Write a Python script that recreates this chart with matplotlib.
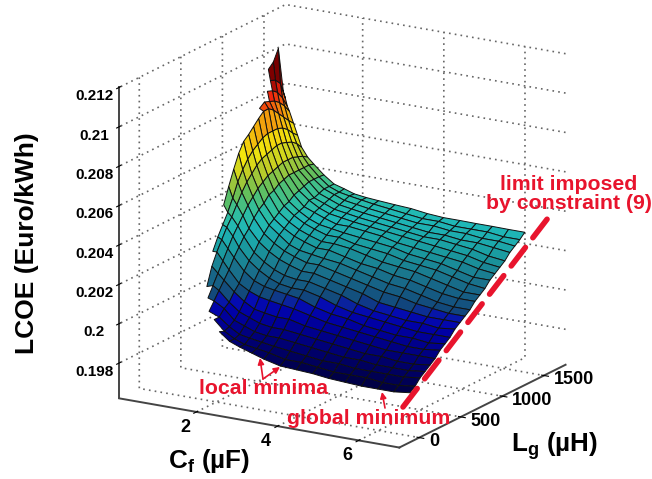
import matplotlib
matplotlib.use('Agg')
import matplotlib.pyplot as plt
import numpy as np
from matplotlib.colors import LinearSegmentedColormap
from mpl_toolkits.mplot3d.art3d import Poly3DCollection

nan = float('nan')

# Axis values
cf_values = [0.25, 0.3, 0.35, 0.4, 0.5, 0.6, 0.7, 0.85, 1, 1.25, 1.5, 1.75, 2, 2.3, 2.6, 3, 3.4, 3.8, 4.2, 4.6, 5, 5.4, 5.8, 6.2]
lg_values = [280, 340, 400, 460, 520, 580, 640, 700, 760, 820, 880, 940, 1000, 1060, 1120, 1180, 1240, 1300, 1360, 1420, 1480, 1540, 1600, 1660]

cf_ticks = [2, 4, 6]
lg_ticks = [0, 500, 1000, 1500]
lcoe_ticks = [0.198, 0.2, 0.202, 0.204, 0.206, 0.208, 0.21, 0.212]
lcoe_tick_labels = ['0.198', '0.2', '0.202', '0.204', '0.206', '0.208', '0.21', '0.212']

# LCOE per Cf column, one value per Lg row, nan outside the feasible region
lcoe = [
    [nan]*20 + [.20935, .2096, .21016, .20785],
    [nan]*20 + [.2088, .2087, .2084, .20752],
    [nan]*19 + [.2084, .2083, .2081, .2077, .20713],
    [nan]*17 + [.2078, .2080, .2079, .2078, .2076, .2073, .2069],
    [nan]*9 + [.20395, .20475, .2055, .20618, .20666, .20689, .20717, .20745, .20769, .2077, .2075, .2072, .2069, .2066, .20633],
    [nan]*6 + [.2020, .2026, .2031, .2036, .2042, .2049, .2054, .2058, .2061, .2063, .2065, .2066, .2066, .2066, .2065, .2063, .2060, .20576],
    [nan]*4 + [.2005, .2014, .2020, .2025, .2030, .2034, .2039, .2044, .2048, .2051, .2054, .2056, .2057, .2058, .2059, .2059, .2058, .2057, .2055, .20518],
    [nan]*3 + [.2001, .2006, .2011, .2016, .2021, .2026, .2030, .2034, .2038, .2041, .2044, .2046, .2048, .2049, .2050, .2051, .2051, .2051, .2050, .2049, .20473],
    [nan]*2 + [.1996, .2000, .2004, .2008, .2012, .2017, .2021, .2025, .2028, .2032, .2035, .2037, .2040, .2041, .2043, .2044, .2045, .2045, .2045, .2045, .2045, .20443],
    [nan] + [.1994, .1994, .1997, .1999, .2003, .2006, .2011, .2015, .2018, .2022, .2025, .2028, .2030, .2032, .2034, .2035, .2037, .2038, .2039, .2040, .2040, .2040, .20397],
    [.1990, .1989, .1990, .1992, .1995, .1999, .2003, .2007, .2011, .2014, .2018, .2021, .2024, .2026, .2028, .2030, .2031, .2032, .2034, .2034, .2035, .2036, .2036, .2036],
    [.1986, .1986, .1987, .1990, .1993, .1996, .2001, .2005, .2008, .2011, .2015, .2018, .2020, .2023, .2025, .2027, .2028, .2030, .2031, .2032, .2033, .2034, .2034, .20345],
    [.1984, .1984, .1986, .1988, .1991, .1995, .2000, .2004, .2006, .2009, .2013, .2016, .2018, .2021, .2023, .2025, .2026, .2028, .2029, .2030, .2031, .2032, .2033, .20328],
    [.1982, .1983, .1985, .1987, .1990, .1994, .1999, .2003, .2005, .2008, .2011, .2014, .2017, .2019, .2021, .2023, .2025, .2026, .2028, .2029, .2030, .2031, .2032, .2032],
    [.1980, .1982, .1984, .1987, .1990, .1994, .1998, .2002, .2005, .2008, .2011, .2014, .2016, .2019, .2021, .2023, .2024, .2026, .2027, .2028, .2029, .2030, .2031, .20315],
    [.1978, .1980, .1983, .1986, .1989, .1992, .1996, .1999, .2003, .2006, .2009, .2012, .2015, .2017, .2020, .2021, .2023, .2025, .2026, .2027, .2028, .2029, .2030, .20309],
    [.19775, .1980, .1982, .1985, .1988, .1991, .1994, .1997, .2000, .2004, .2007, .2010, .2013, .2015, .2018, .2020, .2022, .2024, .2025, .2026, .2027, .2028, .2029, .20304],
    [.1977, .1979, .1981, .1984, .1987, .1990, .1993, .1996, .1998, .2001, .2005, .2008, .2011, .2014, .2016, .2019, .2021, .2022, .2024, .2025, .2026, .2027, .2028, .20293],
    [.1976, .1978, .1981, .1983, .1986, .1989, .1992, .1994, .1997, .1999, .2002, .2006, .2009, .2012, .2015, .2017, .2019, .2021, .2023, .2024, .2025, .2027, .2028, .20287],
    [.19755, .1978, .1980, .1983, .1985, .1988, .1991, .1993, .1996, .1998, .2001, .2005, .2008, .2011, .2014, .2016, .2018, .2020, .2022, .2024, .2025, .2026, .2027, .20287],
    [.1975, .1978, .1980, .1982, .1985, .1987, .1990, .1992, .1995, .1997, .2000, .2003, .2006, .2009, .2012, .2015, .2017, .2019, .2021, .2023, .2024, .2026, .2027, .20286],
    [.1975, .1977, .1980, .1982, .1984, .1987, .1989, .1992, .1994, .1997, .1999, .2002, .2004, .2007, .2010, .2013, .2015, .2018, .2020, .2022, .2024, .2025, .2027, .20286],
    [.1975, .1977, .1980, .1982, .1984, .1987, .1989, .1991, .1994, .1996, .1999, .2001, .2003, .2006, .2008, .2011, .2013, .2016, .2018, .2020, .2023, .2025, .2026, .20285],
    [.1976, .1978, .1981, .1983, .1985, .1987, .1990, .1992, .1994, .1997, .1999, .2001, .2003, .2006, .2008, .2010, .2013, .2015, .2017, .2019, .2022, .2024, .2026, .20285],
]

# Colour stops (LCOE value, colour) as seen on the surface
colour_stops = [
    (.1975, (0, 0, .25)), (.1985, (0, 0, .45)), (.1995, (0, 0, .65)), (.19995, (.02, .05, .70)),
    (.2002, (.07, .28, .48)), (.2012, (.10, .45, .55)), (.2020, (.10, .60, .62)), (.2028, (.12, .72, .72)),
    (.2036, (.20, .75, .60)), (.2043, (.40, .75, .35)), (.2052, (.75, .80, .15)), (.2060, (.95, .90, .05)),
    (.2072, (.95, .60, .05)), (.2081, (.95, .15, .05)), (.2087, (.55, 0, 0)), (.2102, (.35, 0, 0)),
]

plt.rcParams['font.family'] = ['Liberation Sans', 'DejaVu Sans']
plt.rcParams['font.weight'] = 'bold'
plt.rcParams['mathtext.fontset'] = 'custom'
plt.rcParams['mathtext.bf'] = 'Liberation Sans:bold'
plt.rcParams['mathtext.rm'] = 'Liberation Sans:bold'
plt.rcParams['grid.linestyle'] = (0, (1, 2.5))
plt.rcParams['grid.color'] = '#666666'
plt.rcParams['grid.linewidth'] = 1.2

fig = plt.figure(figsize=(6.52, 4.79), dpi=100)
ax = fig.add_axes([0.0153, 0.0146, 1, 1], projection='3d', proj_type='ortho')
ax.view_init(elev=17.2, azim=-59.3)
ax.set_box_aspect((1, 1, 1), zoom=1.143)

zmin, zmax = colour_stops[0][0], colour_stops[-1][0]
cmap = LinearSegmentedColormap.from_list(
    'lcoe', [((v - zmin) / (zmax - zmin), c) for v, c in colour_stops])

# build the mesh cells, skip those with a corner outside the feasible region
cells = []
colours = []
for i in range(len(cf_values) - 1):
    for j in range(len(lg_values) - 1):
        zs = [lcoe[i][j], lcoe[i + 1][j], lcoe[i + 1][j + 1], lcoe[i][j + 1]]
        if np.any(np.isnan(zs)):
            continue
        cells.append([(cf_values[i], lg_values[j], zs[0]), (cf_values[i + 1], lg_values[j], zs[1]),
                      (cf_values[i + 1], lg_values[j + 1], zs[2]), (cf_values[i], lg_values[j + 1], zs[3])])
        colours.append(cmap((np.mean(zs) - zmin) / (zmax - zmin)))
surf = Poly3DCollection(cells, facecolors=colours, edgecolors='#101010', linewidths=0.7)
ax.add_collection3d(surf)

ax.set_xlim(0.1, 7, view_margin=0)
ax.set_ylim(-240, 1760, view_margin=0)
ax.set_zlim(0.1962, 0.212, view_margin=0)
ax.set_xticks(cf_ticks)
ax.set_yticks(lg_ticks)
ax.set_zticks(lcoe_ticks)
ax.set_zticklabels(lcoe_tick_labels)
ax.tick_params(axis='z', labelsize=11, pad=2)
ax.tick_params(axis='x', labelsize=13, pad=-1)
ax.tick_params(axis='y', labelsize=13, pad=-1.6)
plt.setp(ax.get_xticklabels(), ha='right', va='center')
plt.setp(ax.get_yticklabels(), ha='left', va='bottom')
ax.zaxis.set_ticks_position('lower')
ax.zaxis.set_label_position('lower')

for axis in (ax.xaxis, ax.yaxis, ax.zaxis):
    axis.set_pane_color((1, 1, 1, 0))
    axis.pane.set_edgecolor((1, 1, 1, 0))
    axis.line.set_color('#444444')
    axis.line.set_linewidth(1.4)
    axis._axinfo['tick']['color'] = '#444444'

# annotations and axis titles in picture pixels
over = fig.add_axes([0, 0, 1, 1])
over.set_xlim(0, 652)
over.set_ylim(479, 0)
over.axis('off')
over.text(209, 461, 'C$_{\\mathbf{f}}$ (µF)', fontsize=18.7, ha='center', va='center')
over.text(555, 446, 'L$_{\\mathbf{g}}$ (µH)', fontsize=18.7, ha='center', va='center')
over.text(27, 243, 'LCOE (Euro/kWh)', fontsize=19, rotation=90, ha='center', va='center')
red = '#e8142d'
over.plot([403, 548], [407, 218], color=red, lw=4, linestyle=(0, (4.2, 2.2)), dash_capstyle='round')
over.text(569, 194, 'limit imposed\nby constraint (9)', color=red, fontsize=15.3, ha='center', va='center', linespacing=0.95, clip_on=False)
over.text(264, 388, 'local minima', color=red, fontsize=15.3, ha='center', va='center')
over.text(369, 418, 'global minimum', color=red, fontsize=15.3, ha='center', va='center')
arrow = dict(arrowstyle='-|>', color=red, lw=1.2, mutation_scale=9, shrinkA=0, shrinkB=0)
over.annotate('', xy=(260, 358), xytext=(263, 379), arrowprops=arrow)
over.annotate('', xy=(280, 367), xytext=(263, 379), arrowprops=arrow)
over.annotate('', xy=(382, 392), xytext=(385, 408), arrowprops=arrow)

fig.savefig('out.png', dpi=100)
